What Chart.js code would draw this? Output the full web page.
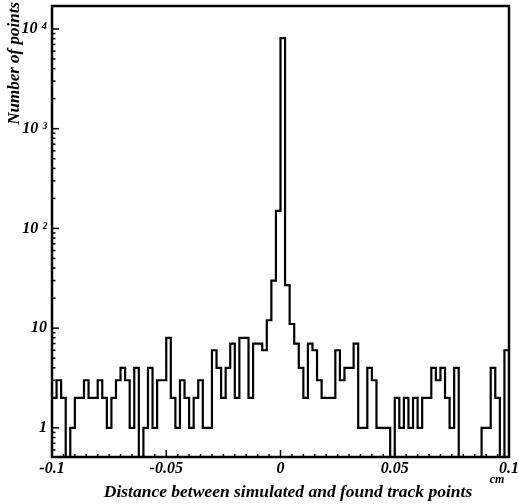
<!DOCTYPE html>
<html>
<head>
<meta charset="utf-8">
<script src="https://cdn.jsdelivr.net/npm/chart.js@4.4.1/dist/chart.umd.min.js"></script>
<style>
  html, body { margin: 0; padding: 0; background: #fff; }
  #wrap { width: 519px; height: 504px; }
</style>
</head>
<body>
<div id="wrap"><canvas id="hist" width="519" height="504"></canvas></div>
<script>
// Binning of the histogram (cm)
const xMin = -0.1;
const xMax = 0.1;
const binWidth = 0.002;

// Entries per bin, left to right (100 bins)
const counts = [
  2, 3, 2, 0, 1, 2, 2, 3, 2, 2,
  3, 2, 1, 2, 3, 4, 3, 1, 4, 0,
  1, 4, 1, 3, 3, 8, 2, 1, 3, 2,
  1, 2, 3, 1, 1, 6, 4, 2, 4, 7,
  2, 8, 8, 2, 7, 7, 6, 12, 30, 150,
  8100, 27, 11, 7, 4, 2, 7, 6, 3, 2,
  2, 2, 6, 3, 4, 4, 7, 1, 1, 4,
  3, 1, 1, 1, 0, 2, 1, 2, 1, 2,
  1, 2, 2, 4, 3, 4, 2, 1, 4, 0,
  0, 0, 0, 0, 1, 1, 4, 2, 0, 6
];

const yMin = 0.51;
const yMax = 17000;

const xTickValues = [-0.1, -0.05, 0, 0.05, 0.1];
const xTickLabels = ['-0.1', '-0.05', '0', '0.05', '0.1'];
const yTickValues = [1, 10, 100, 1000, 10000];
const yTickLabels = ['1', '10', '10 ²', '10 ³', '10 ⁴'];

const xTitle = 'Distance between simulated and found track points';
const xUnit = 'cm';
const yTitle = 'Number of points';

const FONT = '"Liberation Serif", "DejaVu Serif", serif';

// step outline: one point per bin left edge, plus the closing right edge
const points = counts.map((c, k) => ({ x: xMin + k * binWidth, y: c > 0 ? c : yMin }));
points.push({ x: xMax, y: counts[counts.length - 1] || yMin });

// inward ticks, frame and titles
const framePlugin = {
  id: 'frame',
  afterDatasetsDraw(chart) {
    const ctx = chart.ctx;
    const { left, right, top, bottom } = chart.chartArea;
    const xs = chart.scales.x;
    const ys = chart.scales.y;
    ctx.save();
    ctx.strokeStyle = '#000';
    ctx.lineWidth = 2.5;
    ctx.strokeRect(left, top, right - left, bottom - top);

    // x ticks every 0.005, bigger on the labelled ones
    ctx.lineWidth = 1.5;
    for (let i = 0; i <= 40; i++) {
      const v = xMin + i * 0.005;
      const px = xs.getPixelForValue(v);
      const len = (i % 10 === 0) ? 7 : 3;
      ctx.beginPath();
      ctx.moveTo(px, bottom);
      ctx.lineTo(px, bottom - len);
      ctx.stroke();
    }
    // y ticks: decades and 2..9
    for (let d = 0.1; d <= 10000; d *= 10) {
      for (let m = 1; m <= 9; m++) {
        const v = m * d;
        if (v < yMin || v > yMax) continue;
        const py = ys.getPixelForValue(v);
        const len = m === 1 ? 7 : 3.5;
        ctx.beginPath();
        ctx.moveTo(left, py);
        ctx.lineTo(left + len, py);
        ctx.stroke();
      }
    }

    ctx.fillStyle = '#000';
    ctx.font = 'italic bold 17.5px ' + FONT;
    ctx.textAlign = 'center';
    ctx.textBaseline = 'alphabetic';
    ctx.fillText(xTitle, 288, 497);
    ctx.font = 'italic bold 12px ' + FONT;
    ctx.fillText(xUnit, 497, 483);

    ctx.font = 'italic bold 17px ' + FONT;
    ctx.translate(15, 2);
    ctx.rotate(-Math.PI / 2);
    ctx.textAlign = 'right';
    ctx.textBaseline = 'middle';
    ctx.fillText(yTitle, 0, 0);
    ctx.restore();
  }
};

new Chart(document.getElementById('hist'), {
  type: 'line',
  data: {
    datasets: [{
      data: points,
      stepped: 'before',
      borderColor: '#000',
      borderWidth: 2.2,
      pointRadius: 0,
      fill: false,
      tension: 0
    }]
  },
  options: {
    responsive: false,
    animation: false,
    devicePixelRatio: 1,
    layout: { padding: { top: 6, right: 10, left: 0, bottom: 0 } },
    plugins: { legend: { display: false }, tooltip: { enabled: false } },
    scales: {
      x: {
        type: 'linear',
        min: xMin,
        max: xMax,
        afterBuildTicks(scale) { scale.ticks = xTickValues.map(v => ({ value: v })); },
        afterFit(scale) { scale.height = 47; scale.paddingLeft = 0; scale.paddingRight = 0; },
        ticks: {
          callback: (v) => xTickLabels[xTickValues.findIndex(t => Math.abs(t - v) < 1e-9)],
          maxRotation: 0,
          autoSkip: false,
          padding: 2,
          color: '#000',
          font: { family: FONT, size: 16, style: 'italic', weight: 'bold' }
        },
        grid: { display: false, drawTicks: false, tickLength: 0 },
        border: { display: false }
      },
      y: {
        type: 'logarithmic',
        min: yMin,
        max: yMax,
        afterBuildTicks(scale) { scale.ticks = yTickValues.map(v => ({ value: v })); },
        afterFit(scale) { scale.width = 52; scale.paddingTop = 0; scale.paddingBottom = 0; },
        ticks: {
          callback: (v) => yTickLabels[yTickValues.indexOf(v)],
          autoSkip: false,
          padding: 5,
          color: '#000',
          font: { family: FONT, size: 16, style: 'italic', weight: 'bold' }
        },
        grid: { display: false, drawTicks: false, tickLength: 0 },
        border: { display: false }
      }
    }
  },
  plugins: [framePlugin]
});
</script>
</body>
</html>
